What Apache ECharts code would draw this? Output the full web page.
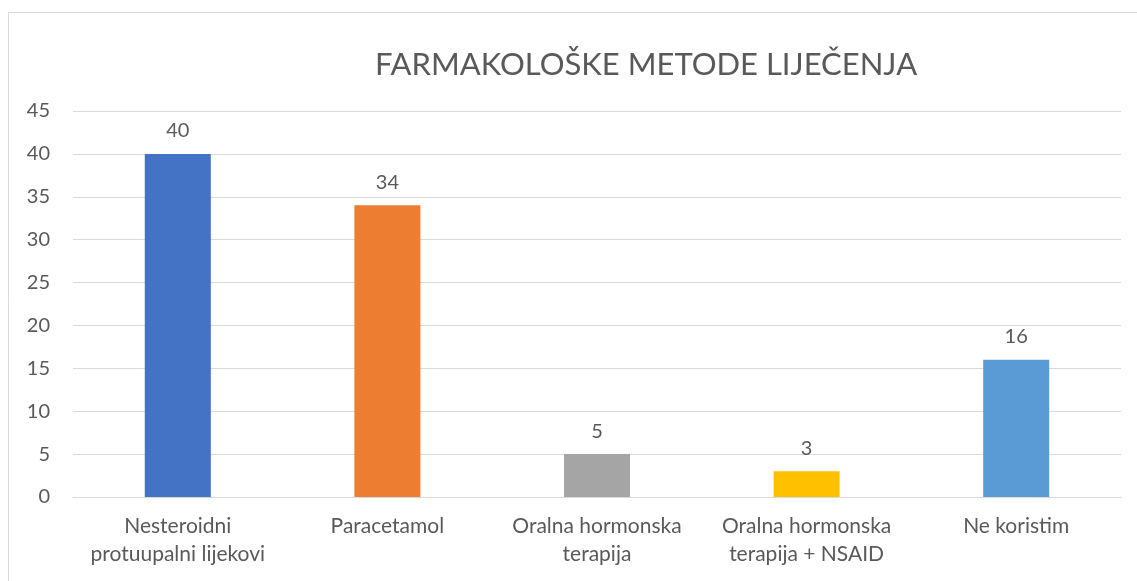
<!DOCTYPE html>
<html>
<head>
<meta charset="utf-8">
<script src="https://cdn.jsdelivr.net/npm/echarts@6/dist/echarts.min.js"></script>
<style>
  html, body { margin: 0; padding: 0; background: #fff; }
  #chart { width: 1137px; height: 581px; }
</style>
</head>
<body>
<div id="chart"></div>
<script>
// data
const categories = [
    'Nesteroidni\nprotuupalni lijekovi',
    'Paracetamol',
    'Oralna hormonska\nterapija',
    'Oralna hormonska\nterapija + NSAID',
    'Ne koristim'
];
const values = [40, 34, 5, 3, 16];
const barColors = ['#4472C4', '#ED7D31', '#A5A5A5', '#FFC000', '#5B9BD5'];
const yTicks = { min: 0, max: 45, interval: 5 };

const font = 'Lato, "Open Sans", sans-serif';
const textColor = '#595959';

let chart = echarts.init(document.getElementById('chart'));
let option = {
    animation: false,
    textStyle: { fontFamily: font },
    title: {
        text: 'FARMAKOLOŠKE METODE LIJEČENJA',
        left: 641,
        top: 44,
        textAlign: 'center',
        textStyle: { fontFamily: font, fontSize: 31, fontWeight: 'normal', color: textColor }
    },
    graphic: [
        {
            type: 'rect',
            shape: { x: 8.5, y: 12.5, width: 1300, height: 700 },
            style: { fill: 'none', stroke: '#d9d9d9', lineWidth: 1 },
            silent: true
        }
    ],
    grid: { left: 73, right: 16, top: 111, bottom: 84 },
    xAxis: {
        type: 'category',
        data: categories,
        axisTick: { show: false },
        axisLine: { lineStyle: { color: '#d9d9d9', width: 1 } },
        axisLabel: {
            color: textColor,
            fontSize: 21,
            lineHeight: 28,
            margin: 15,
            interval: 0
        }
    },
    yAxis: {
        type: 'value',
        min: yTicks.min,
        max: yTicks.max,
        interval: yTicks.interval,
        axisLine: { show: false },
        axisTick: { show: false },
        splitLine: { lineStyle: { color: '#d9d9d9', width: 1 } },
        axisLabel: { color: textColor, fontSize: 20, margin: 23 }
    },
    series: [
        {
            type: 'bar',
            barWidth: '31.5%',
            data: values.map((v, i) => ({ value: v, itemStyle: { color: barColors[i] } })),
            label: {
                show: true,
                position: 'top',
                distance: 13,
                color: textColor,
                fontSize: 20,
                fontFamily: font
            }
        }
    ]
};
chart.setOption(option);
window.onresize = () => chart.resize();
</script>
</body>
</html>
